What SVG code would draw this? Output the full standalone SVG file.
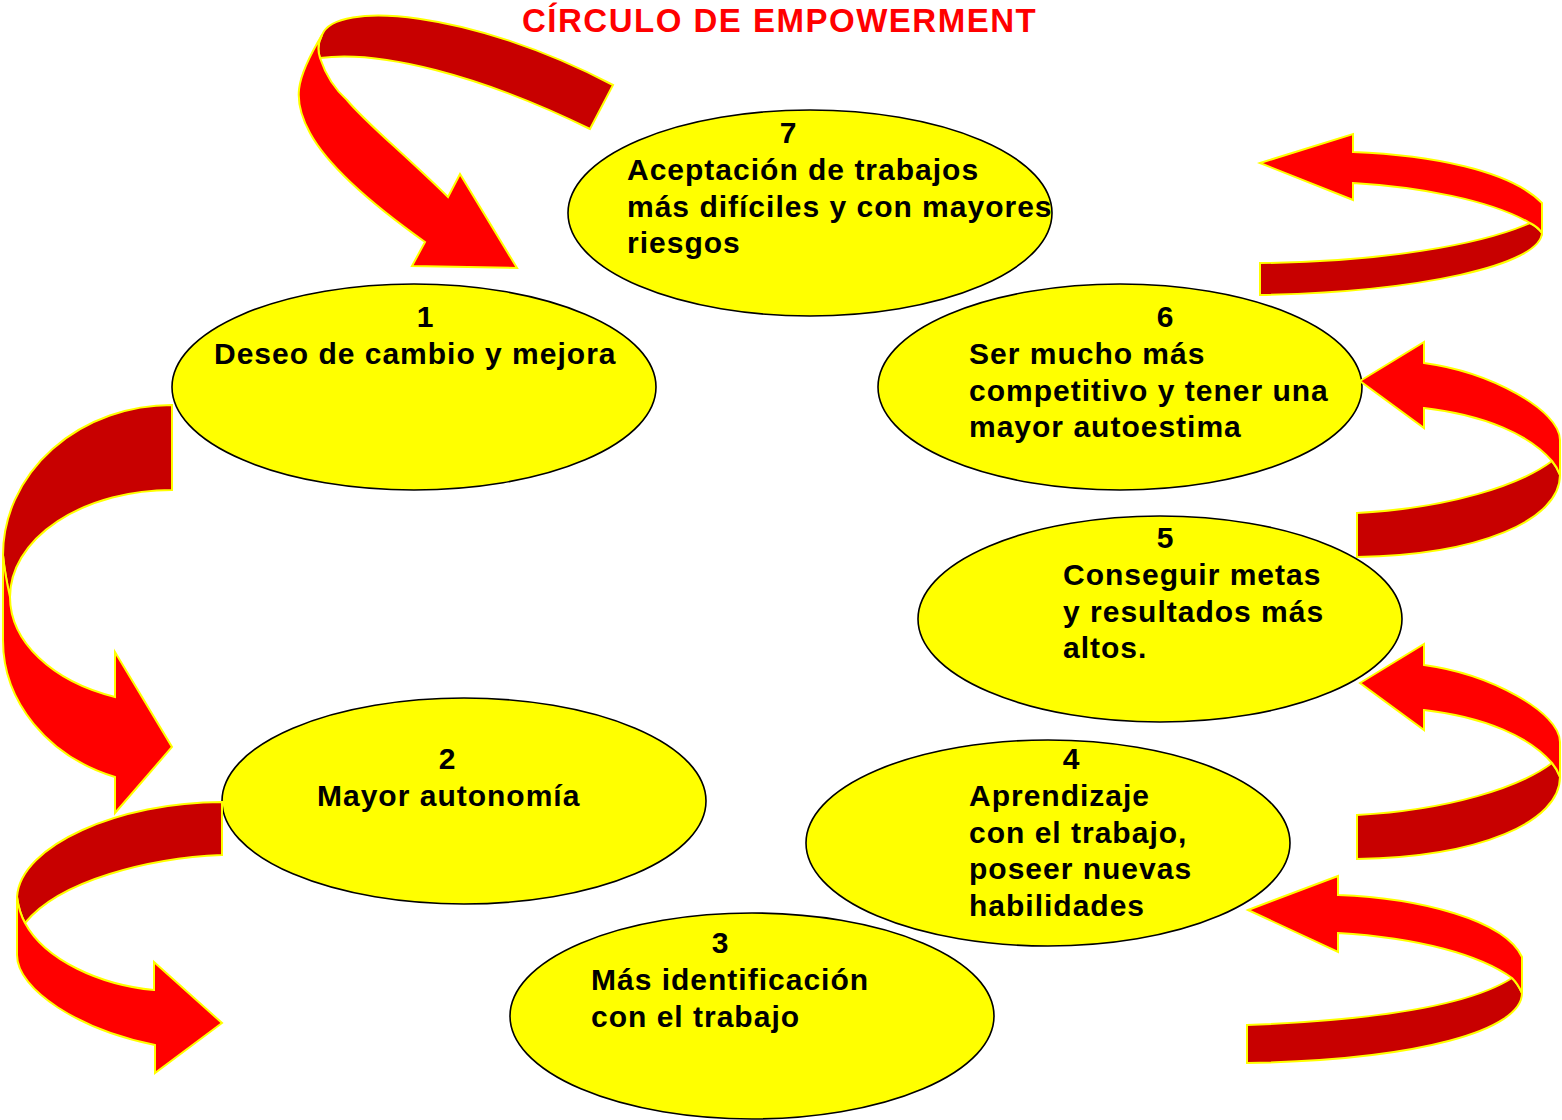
<svg xmlns="http://www.w3.org/2000/svg" width="1562" height="1120" viewBox="0 0 1562 1120">
<style>
.node ellipse{fill:#FFFF00;stroke:#000;stroke-width:1.6}
.t{font-family:"Liberation Sans",Arial,sans-serif;font-weight:bold;font-size:30px;letter-spacing:1px;fill:#000}
.n{text-anchor:middle;letter-spacing:0}
.front{fill:#FF0000;stroke:#FFFF00;stroke-width:2;stroke-linejoin:miter}
.back{fill:#C80000;stroke:#FFFF00;stroke-width:2;stroke-linejoin:miter}
.title{font-family:"Liberation Sans",Arial,sans-serif;font-weight:bold;font-size:33px;letter-spacing:1.5px;fill:#FF0000}
</style>
<rect width="1562" height="1120" fill="#fff"/>
<text class="title" x="522" y="32">CÍRCULO DE EMPOWERMENT</text>

<g id="node7" class="node">
<ellipse cx="810" cy="213" rx="242" ry="103"/>
<text class="t n" x="788" y="143">7</text>
<text class="t" x="627" y="180">Aceptación de trabajos</text>
<text class="t" x="627" y="217">más difíciles y con mayores</text>
<text class="t" x="627" y="253">riesgos</text>
</g>
<g id="node1" class="node">
<ellipse cx="414" cy="387" rx="242" ry="103"/>
<text class="t n" x="425" y="327">1</text>
<text class="t" x="214" y="364">Deseo de cambio y mejora</text>
</g>
<g id="node6" class="node">
<ellipse cx="1120" cy="387" rx="242" ry="103"/>
<text class="t n" x="1165" y="327">6</text>
<text class="t" x="969" y="364">Ser mucho más</text>
<text class="t" x="969" y="401">competitivo y tener una</text>
<text class="t" x="969" y="437">mayor autoestima</text>
</g>
<g id="node5" class="node">
<ellipse cx="1160" cy="619" rx="242" ry="103"/>
<text class="t n" x="1165" y="548">5</text>
<text class="t" x="1063" y="585">Conseguir metas</text>
<text class="t" x="1063" y="622">y resultados más</text>
<text class="t" x="1063" y="658">altos.</text>
</g>
<g id="node2" class="node">
<ellipse cx="464" cy="801" rx="242" ry="103"/>
<text class="t n" x="447" y="769">2</text>
<text class="t" x="317" y="806">Mayor autonomía</text>
</g>
<g id="node4" class="node">
<ellipse cx="1048" cy="843" rx="242" ry="103"/>
<text class="t n" x="1071" y="769">4</text>
<text class="t" x="969" y="806">Aprendizaje</text>
<text class="t" x="969" y="843">con el trabajo,</text>
<text class="t" x="969" y="879">poseer nuevas</text>
<text class="t" x="969" y="916">habilidades</text>
</g>
<g id="node3" class="node">
<ellipse cx="752" cy="1016" rx="242" ry="103"/>
<text class="t n" x="720" y="953">3</text>
<text class="t" x="591" y="990">Más identificación</text>
<text class="t" x="591" y="1027">con el trabajo</text>
</g>

<g id="connectors">
<g id="arrow7to1">
<path class="back" d="M322,35 C335,0 470,10 613,85 L590,129 C480,75 380,50 320,58 Q316,46 322,35 Z"/>
<path class="front" d="M322,35 Q316,46 320,58 C323,67 330,85 347,100 C365,122 400,150 448,197 L460,174 L517,268 L412,266 L425,242 C380,210 330,170 310,133 C292,100 295,80 322,35 Z"/>
</g>
<g id="arrow1to2">
<path class="back" d="M172,405 A169 150 0 0 0 3,555 Q5,575 10,597 A162 107 0 0 1 172,490 Z"/>
<path class="front" d="M3,555 L3,640 A169 145 0 0 0 115,777 L115,813 L172,747 L115,652 L115,697 A162 107 0 0 1 10,597 Q5,575 3,555 Z"/>
</g>
<g id="arrow2to3">
<path class="back" d="M222,802 L222,855 C150,858 60,880 25,923 Q19,912 17,897 C20,845 120,802 222,802 Z"/>
<path class="front" d="M17,897 L17,955 C17,990 80,1030 155,1045 L155,1073 L222,1023 L154,962 L154,990 C100,985 45,960 25,923 Q19,912 17,897 Z"/>
</g>
<g id="arrow3to4">
<path class="back" d="M1512,978 Q1518,984 1522,993 C1522,1030 1420,1060 1247,1063 L1247,1025 C1380,1020 1470,1005 1512,978 Z"/>
<path class="front" d="M1248,910 L1338,876 L1338,895 C1420,898 1505,920 1522,957 L1522,993 Q1518,984 1512,978 C1480,955 1420,938 1338,933 L1338,952 Z"/>
</g>
<g id="arrow4to5" transform="translate(0,302)">
<path class="back" d="M1552,461 Q1557,467 1560,475 C1560,520 1480,555 1357,557 L1357,513 C1450,508 1520,485 1552,461 Z"/>
<path class="front" d="M1360,381 L1424,342 L1424,363 C1490,372 1560,410 1560,440 L1560,475 Q1557,467 1552,461 C1530,435 1485,415 1424,408 L1424,428 Z"/>
</g>
<g id="arrow5to6">
<path class="back" d="M1552,461 Q1557,467 1560,475 C1560,520 1480,555 1357,557 L1357,513 C1450,508 1520,485 1552,461 Z"/>
<path class="front" d="M1360,381 L1424,342 L1424,363 C1490,372 1560,410 1560,440 L1560,475 Q1557,467 1552,461 C1530,435 1485,415 1424,408 L1424,428 Z"/>
</g>
<g id="arrow6to7">
<path class="back" d="M1530,223 Q1538,227 1542,233 C1540,265 1420,292 1260,295 L1260,263 C1380,262 1480,245 1530,223 Z"/>
<path class="front" d="M1260,163 L1353,134 L1353,152 C1430,155 1510,170 1542,203 L1542,233 Q1538,227 1530,223 C1490,200 1420,187 1353,183 L1353,200 Z"/>
</g>
</g>
</svg>
